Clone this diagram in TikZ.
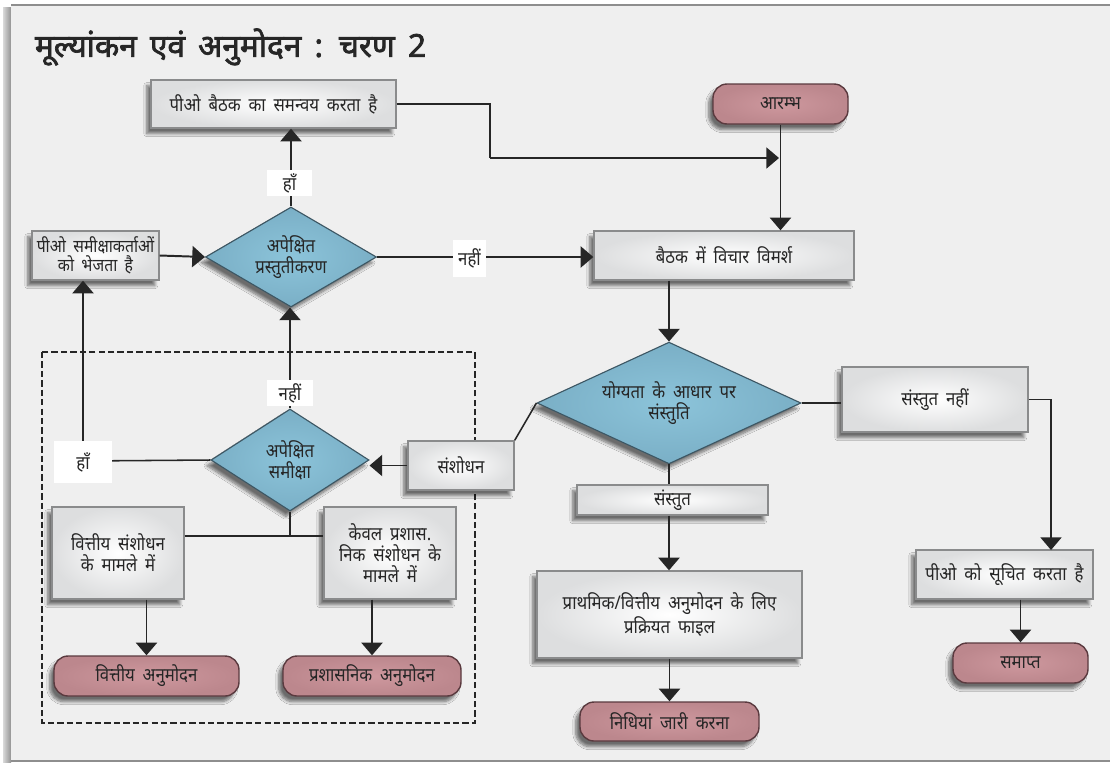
\documentclass[tikz,border=0pt]{standalone}
\usepackage{fontspec}
\setmainfont{Noto Sans}[Script=Devanagari, WordSpace=1.8, FakeStretch=0.89]
\newfontfamily\titlefont{Noto Sans}[Script=Devanagari, FakeBold=2.2, WordSpace=1.6]
\usetikzlibrary{shapes.geometric,arrows.meta,shadows.blur,calc}

\definecolor{panel}{HTML}{EFEFEF}
\definecolor{paneledge}{HTML}{8E8E8E}
\definecolor{boxedge}{HTML}{8A8B8C}
\definecolor{boxout}{HTML}{DDDEDF}
\definecolor{diain}{HTML}{8CC4DA}
\definecolor{diaout}{HTML}{7AAFC6}
\definecolor{diaedge}{HTML}{3D5764}
\definecolor{termin}{HTML}{CE989E}
\definecolor{termout}{HTML}{BC878D}
\definecolor{termedge}{HTML}{5A3A3F}
\definecolor{ink}{HTML}{262626}

\tikzset{
  every node/.style={font=\fontsize{13.4}{15}\selectfont, text=ink},
  sz/.style 2 args={minimum width=#1*0.025cm, minimum height=#2*0.025cm},
  shadowed/.style={blur shadow={shadow xshift=-3pt, shadow yshift=-4pt,
      shadow blur steps=8, shadow opacity=55}},
  procbox/.style={shadowed, rectangle, draw=boxedge, line width=1pt,
      inner color=white, outer color=boxout, align=center, inner sep=2pt},
  terminal/.style={shadowed, rectangle, rounded corners=10pt, draw=termedge,
      line width=1pt, inner color=termin, outer color=termout, align=center},
  decision/.style={shadowed, diamond, aspect=1.7, inner sep=0pt, draw=diaedge,
      line width=0.8pt, inner color=diain, outer color=diaout, align=center},
  tag/.style={fill=white, inner sep=0pt, align=center},
  conn/.style={draw=ink, line width=1.4pt},
  thin/.style={draw=ink, line width=1.1pt},
  arrow/.style={conn, -{Triangle[width=15pt,length=9pt]}},
}

\begin{document}
\begin{tikzpicture}[x=0.025cm, y=-0.025cm]
  % page and panel
  \useasboundingbox (0,0) rectangle (1110,765);
  \fill[white] (0,0) rectangle (1110,765);
  \shade[left color=gray!30, right color=gray!85] (3,7) rectangle (11,762);
  \fill[panel] (11,5) rectangle (1110,761);
  \draw[paneledge, line width=1.2pt] (11,5) -- (1110,5);
  \draw[paneledge, line width=1.6pt] (11,761) -- (1110,761);

  % title
  \node[anchor=west, font=\fontsize{22.5}{26}\titlefont] (title) at (30,47)
    {मूल्यांकन एवं अनुमोदन : चरण 2};

  % dashed review frame
  \draw[ink, line width=1.1pt, dash pattern=on 4.5pt off 2.2pt] (42,352) rectangle (475,723);

  % nodes
  \node[procbox, sz={245}{48}] (pbc) at (273.5,104) {पीओ बैठक का समन्वय करता है};
  \node[terminal, sz={135}{40}] (start) at (780.5,104) {आरम्भ};
  \node[procbox, sz={260}{49}] (meet) at (724,255.5) {बैठक में विचार विमर्श};
  \node[decision, sz={171}{100}] (d1) at (291,257) {अपेक्षित\\प्रस्तुतीकरण};
  \node[procbox, sz={127}{49}, font=\fontsize{12.6}{13.5}\selectfont] (send) at (95.5,255.5) {पीओ समीक्षाकर्ताओं\\को भेजता है};
  \node[decision, sz={264}{120}] (d2) at (669,403) {योग्यता के आधार पर\\संस्तुति};
  \node[procbox, sz={186}{65}] (notrec) at (935,399.5) {संस्तुत नहीं};
  \node[procbox, sz={191}{30}] (rec) at (672.5,500) {संस्तुत};
  \node[procbox, sz={265}{87}] (proc) at (669.5,614.5) {प्राथमिक/वित्तीय अनुमोदन के लिए\\प्रक्रियत फाइल};
  \node[terminal, sz={179}{39}] (funds) at (669.5,721.5) {निधियां जारी करना};
  \node[procbox, sz={177}{49}] (inform) at (1004.5,574.5) {पीओ को सूचित करता है};
  \node[terminal, sz={135}{40}] (end) at (1020.5,663) {समाप्त};
  \node[procbox, sz={106}{49}] (rev) at (461,465.5) {संशोधन};
  \node[decision, sz={158}{102}] (d3) at (290,460) {अपेक्षित\\समीक्षा};
  \node[procbox, sz={132}{92}] (fin) at (118,553) {वित्तीय संशोधन\\के मामले में};
  \node[procbox, sz={132}{92}] (adm) at (390,553) {केवल प्रशास.\\निक संशोधन के\\मामले में};
  \node[terminal, sz={185}{40}] (finap) at (146.5,676) {वित्तीय अनुमोदन};
  \node[terminal, sz={178}{40}] (admap) at (372,676) {प्रशासनिक अनुमोदन};

  % junction points of the routed connectors
  \coordinate (j1) at (490,158);
  \coordinate (j2) at (779,158);
  \coordinate (j3) at (1051,550);
  \coordinate (j4) at (83,461);
  \coordinate (j5) at (290,536);

  % connectors
  \draw[thin] (pbc.east) -| (j1);
  \draw[thin, -{Triangle[width=15pt,length=9pt]}] (j1) -- (j2);
  \draw[arrow] (start.south) -- (start.south |- meet.north);
  \draw[arrow] (d1.east) -- (d1.east -| meet.west);
  \draw[arrow] (send.east) -- (d1.west);
  \draw[arrow] (d1.north) -- (d1.north |- pbc.south);
  \draw[arrow] (meet.south -| d2.north) -- (d2.north);
  \draw[conn] (d2.south) -- (d2.south |- rec.north);
  \draw[arrow] (d2.south |- rec.south) -- (d2.south |- proc.north);
  \draw[arrow] (proc.south) -- (funds.north);
  \draw[thin] (d2.east) -- (d2.east -| notrec.west);
  \draw[thin, -{Triangle[width=15pt,length=9pt]}] (notrec.east) -| (j3);
  \draw[arrow] (end.north |- inform.south) -- (end.north);
  \draw[thin] (d2.west) -- (rev.north east);
  \draw[arrow] (rev.west) -- (rev.west -| d3.east);
  \draw[arrow] (d3.north) -- (d3.north |- d1.south);
  \draw[thin] (d3.west) -- (j4);
  \draw[arrow] (j4) -- (j4 |- send.south);
  \draw[conn] (d3.south) -- (j5);
  \draw[conn] (fin.east |- j5) -- (adm.west |- j5);
  \draw[arrow] (finap.north |- fin.south) -- (finap.north);
  \draw[arrow] (admap.north |- adm.south) -- (admap.north);

  % branch labels
  \node[tag, sz={45}{26}] (yes1) at (289.5,183) {हाँ};
  \node[tag, sz={33}{37}] (no1) at (469.5,258.5) {नहीं};
  \node[tag, sz={46}{26}] (no2) at (290,393) {नहीं};
  \node[tag, sz={58}{42}] (yes2) at (83,462) {हाँ};
\end{tikzpicture}
\end{document}
